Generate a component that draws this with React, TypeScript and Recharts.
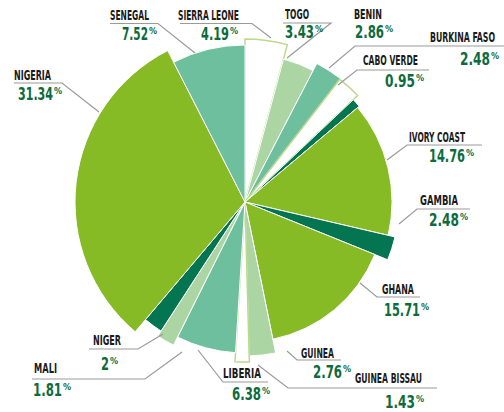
import { PieChart, Pie, Cell } from "recharts";

// clockwise from 12 o'clock
const countries = [
  "SIERRA LEONE",
  "TOGO",
  "BENIN",
  "BURKINA FASO",
  "CABO VERDE",
  "IVORY COAST",
  "GAMBIA",
  "GHANA",
  "GUINEA",
  "GUINEA BISSAU",
  "LIBERIA",
  "MALI",
  "NIGER",
  "NIGERIA",
  "SENEGAL",
];
const shares = [4.19, 3.43, 2.86, 2.48, 0.95, 14.76, 2.48, 15.71, 2.76, 1.43, 6.38, 1.81, 2, 31.34, 7.52];
const shareText = ["4.19", "3.43", "2.86", "2.48", "0.95", "14.76", "2.48", "15.71", "2.76", "1.43", "6.38", "1.81", "2", "31.34", "7.52"];

const data = countries.map((name, i) => ({ name, value: shares[i] }));

const YG = "#86bb26";
const TEAL = "#6ebf9e";
const LIGHT = "#acd5a4";
const DARK = "#037550";
const WHITE = "#ffffff";
const EDGE = "#bcd98c";

const fills = [WHITE, LIGHT, TEAL, WHITE, DARK, YG, DARK, YG, LIGHT, WHITE, TEAL, LIGHT, DARK, YG, TEAL];
// each slice sticks out by its own amount
const sliceR = [163, 148, 156, 155, 149, 147, 154, 140, 154, 160, 151, 160, 154, 170, 157];

// label layout: name x/baseline, name width, value x/baseline, value width
const labelPos: Record<string, { nx: number; ny: number; nw: number; vx: number; vy: number; vw: number }> = {
  "SENEGAL": { nx: 110, ny: 20, nw: 39, vx: 122, vy: 40, vw: 26 },
  "SIERRA LEONE": { nx: 178, ny: 20, nw: 61, vx: 201, vy: 40, vw: 28 },
  "NIGERIA": { nx: 14, ny: 80, nw: 37, vx: 18, vy: 100, vw: 35 },
  "TOGO": { nx: 285, ny: 19, nw: 24, vx: 285, vy: 38, vw: 29 },
  "BENIN": { nx: 354, ny: 19, nw: 28, vx: 355, vy: 38, vw: 29 },
  "BURKINA FASO": { nx: 430, ny: 42, nw: 65, vx: 460, vy: 65, vw: 30 },
  "CABO VERDE": { nx: 363, ny: 65, nw: 55, vx: 385, vy: 87, vw: 30 },
  "IVORY COAST": { nx: 409, ny: 142, nw: 56, vx: 429, vy: 162, vw: 36 },
  "GAMBIA": { nx: 420, ny: 205, nw: 38, vx: 429, vy: 226, vw: 30 },
  "GHANA": { nx: 382, ny: 294, nw: 32, vx: 384, vy: 316, vw: 36 },
  "GUINEA": { nx: 301, ny: 358, nw: 33, vx: 313, vy: 378, vw: 29 },
  "GUINEA BISSAU": { nx: 355, ny: 383, nw: 67, vx: 385, vy: 408, vw: 30 },
  "NIGER": { nx: 93, ny: 345, nw: 28, vx: 101, vy: 370, vw: 8 },
  "MALI": { nx: 34, ny: 373, nw: 23, vx: 33, vy: 396, vw: 29 },
  "LIBERIA": { nx: 223, ny: 378, nw: 38, vx: 232, vy: 400, vw: 29 },
};

const leaders: Record<string, number[][]> = {
  "SENEGAL": [[110, 23.5], [158, 23.5], [195, 53]],
  "SIERRA LEONE": [[180, 23.5], [252, 23.5], [271, 38]],
  "NIGERIA": [[14, 83], [62, 83], [99, 112]],
  "TOGO": [[283, 23], [331, 23], [287, 58]],
  "BURKINA FASO": [[504, 46], [355, 46], [329, 68]],
  "CABO VERDE": [[429, 70], [357, 70], [338, 85]],
  "IVORY COAST": [[482, 145], [407, 145], [387, 160]],
  "GAMBIA": [[470, 209], [417, 209], [399, 224]],
  "GHANA": [[420, 297], [377, 297], [360, 283]],
  "GUINEA": [[341, 360], [297, 360], [287, 351]],
  "GUINEA BISSAU": [[437, 388], [288, 388], [258, 365]],
  "NIGER": [[89, 349], [138, 349], [163, 334]],
  "MALI": [[32, 379], [145, 379], [182, 352]],
  "LIBERIA": [[268, 382], [223, 382], [198, 350]],
};

const FONT = "'Liberation Sans Narrow', 'DejaVu Sans Condensed', 'Liberation Sans', sans-serif";

export default function App() {
  return (
    <div style={{ position: "absolute", left: 0, top: 0, width: 504, height: 412, background: "#fff" }}>
      <PieChart width={504} height={412} margin={{ top: 0, right: 0, bottom: 0, left: 0 }}>
        {sliceR.map((r, k) => (
          <Pie
            key={k}
            data={data}
            dataKey="value"
            nameKey="name"
            cx={245}
            cy={202}
            innerRadius={0}
            outerRadius={r}
            startAngle={90}
            endAngle={-270}
            isAnimationActive={false}
            legendType="none"
          >
            {data.map((_, i) => (
              <Cell
                key={i}
                fill={i === k ? fills[i] : "none"}
                stroke={i === k ? (fills[i] === WHITE ? EDGE : "#ffffff") : "none"}
                strokeWidth={fills[i] === WHITE ? 1.5 : 1}
              />
            ))}
          </Pie>
        ))}
      </PieChart>
      <svg width={504} height={412} style={{ position: "absolute", left: 0, top: 0 }}>
        {Object.entries(leaders).map(([k, pts]) => (
          <polyline key={k} points={pts.map((p) => p.join(",")).join(" ")} fill="none" stroke="#9a9a9a" strokeWidth={1.2} />
        ))}
        {countries.map((c, i) => {
          const p = labelPos[c];
          return (
            <g key={c} fontFamily={FONT} fontWeight={700}>
              <text x={p.nx} y={p.ny} fontSize={14} fill="#1a1a1a" textLength={p.nw} lengthAdjust="spacingAndGlyphs">
                {c}
              </text>
              <text x={p.vx} y={p.vy} fontSize={17} fill="#0d6b3d" textLength={p.vw} lengthAdjust="spacingAndGlyphs">
                {shareText[i]}
              </text>
              <text x={p.vx + p.vw + 1} y={p.vy - 6} fontSize={9} fill="#0d6b3d">
                %
              </text>
            </g>
          );
        })}
      </svg>
    </div>
  );
}
